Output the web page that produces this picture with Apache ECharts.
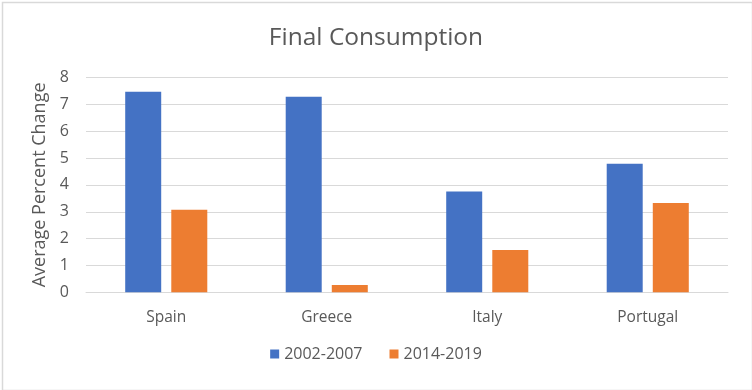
<!DOCTYPE html>
<html>
<head>
<meta charset="utf-8">
<script src="https://cdn.jsdelivr.net/npm/echarts@6/dist/echarts.min.js"></script>
<style>
html,body{margin:0;padding:0;background:#fff;}
#c{width:752px;height:390px;}
</style>
</head>
<body>
<div id="c"></div>
<script>
const categories = ['Spain', 'Greece', 'Italy', 'Portugal'];
const series2002_2007 = [7.47, 7.28, 3.75, 4.79];
const series2014_2019 = [3.07, 0.27, 1.58, 3.33];
const seriesNames = ['2002-2007', '2014-2019'];
const yTicks = [0, 8, 1];

const chart = echarts.init(document.getElementById('c'), null, {renderer: 'canvas'});
const font = '"Open Sans", sans-serif';
chart.setOption({
  animation: false,
  backgroundColor: '#ffffff',
  graphic: [{
    type: 'rect', left: 0, top: 0, z: 100, silent: true,
    shape: {x: 0.5, y: 0.5, width: 750, height: 388},
    style: {fill: 'none', stroke: '#d9d9d9', lineWidth: 1.5}
  }],
  title: {
    text: 'Final Consumption',
    left: 'center', top: 21,
    textStyle: {fontFamily: font, fontSize: 24.5, fontWeight: 'normal', color: '#595959'}
  },
  legend: {
    data: seriesNames,
    bottom: 23, left: 'center',
    itemWidth: 9, itemHeight: 9, itemGap: 27,
    icon: 'rect',
    textStyle: {fontFamily: font, fontSize: 16, color: '#595959'}
  },
  grid: {left: 86, right: 24, top: 77.5, bottom: 97.7, containLabel: false},
  xAxis: {
    type: 'category', data: categories,
    axisLine: {show: true, lineStyle: {color: '#d9d9d9', width: 1}},
    axisTick: {show: false},
    axisLabel: {fontFamily: font, fontSize: 15.5, color: '#595959', margin: 17}
  },
  yAxis: {
    type: 'value', min: yTicks[0], max: yTicks[1], interval: yTicks[2],
    name: 'Average Percent Change', nameLocation: 'middle', nameGap: 31, nameRotate: 90,
    nameTextStyle: {fontFamily: font, fontSize: 18, color: '#595959'},
    axisLine: {show: false}, axisTick: {show: false},
    axisLabel: {fontFamily: font, fontSize: 16, color: '#595959', margin: 17},
    splitLine: {lineStyle: {color: '#d9d9d9', width: 1}}
  },
  series: [
    {name: seriesNames[0], type: 'bar', data: series2002_2007, barWidth: 36, barGap: '28%',
     itemStyle: {color: '#4472C4'}},
    {name: seriesNames[1], type: 'bar', data: series2014_2019, barWidth: 36,
     itemStyle: {color: '#ED7D31'}}
  ]
});
</script>
</body>
</html>
